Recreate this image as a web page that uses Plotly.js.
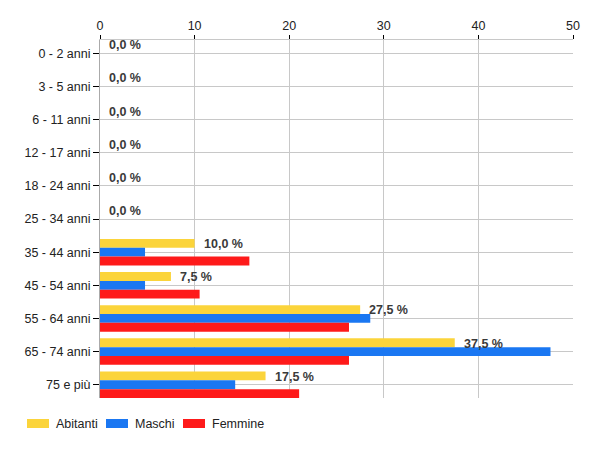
<!DOCTYPE html>
<html>
<head>
<meta charset="utf-8">
<script src="https://cdn.plot.ly/plotly-3.0.1.min.js"></script>
<style>html,body{margin:0;padding:0;background:#fff;}#chart{width:600px;height:450px;}</style>
</head>
<body>
<div id="chart"></div>
<script>
var categories = ["0 - 2 anni","3 - 5 anni","6 - 11 anni","12 - 17 anni","18 - 24 anni","25 - 34 anni","35 - 44 anni","45 - 54 anni","55 - 64 anni","65 - 74 anni","75 e più"];
var abitanti = [0, 0, 0, 0, 0, 0, 10.0, 7.5, 27.5, 37.5, 17.5];
var maschi   = [0, 0, 0, 0, 0, 0, 4.76, 4.76, 28.57, 47.62, 14.29];
var femmine  = [0, 0, 0, 0, 0, 0, 15.79, 10.53, 26.32, 26.32, 21.05];
var abitantiLabels = ["0,0 %","0,0 %","0,0 %","0,0 %","0,0 %","0,0 %","10,0 %","7,5 %","27,5 %","37,5 %","17,5 %"];
var seriesNames = ["Abitanti","Maschi","Femmine"];
var seriesColors = ["#fbd43b","#1a77f2","#fe1a1a"];
var xTicks = [0,10,20,30,40,50];

var seriesData = [abitanti, maschi, femmine];
var traces = seriesData.map(function(vals, i){
  return {
    type: 'bar', orientation: 'h',
    y: categories, x: vals,
    name: seriesNames[i],
    marker: {color: seriesColors[i]},
    hoverinfo: 'none'
  };
});

var FONT = 'Arial, Liberation Sans, sans-serif';

var annotations = categories.map(function(c, i){
  return {
    x: abitanti[i], y: c, xref: 'x', yref: 'y',
    text: '<b>' + abitantiLabels[i] + '</b>',
    showarrow: false, xanchor: 'left', yanchor: 'middle',
    xshift: 7, yshift: 8,
    font: {family: FONT, size: 12.5, color: '#3a3a3a'}
  };
});

// manual legend
var shapes = [];
var legendX = [27, 106, 183];
seriesNames.forEach(function(n, i){
  shapes.push({type:'rect', xref:'paper', yref:'paper',
    x0: (legendX[i]-100)/473, x1: (legendX[i]+22-100)/473,
    y0: (398-428)/358, y1: (398-419)/358,
    fillcolor: seriesColors[i], line: {width: 0}});
  annotations.push({xref:'paper', yref:'paper', x:(legendX[i]+27-100)/473, y:(398-424)/358,
    xanchor:'left', yanchor:'middle', showarrow:false, text:n,
    font:{family:FONT, size:12.5, color:'#222'}});
});

var layout = {
  width: 600, height: 450,
  margin: {l: 100, r: 27, t: 40, b: 52, pad: 0},
  paper_bgcolor: '#fff', plot_bgcolor: '#fff',
  barmode: 'group', bargap: 0.2, bargroupgap: 0,
  showlegend: false,
  font: {family: FONT, size: 12.5, color: '#222'},
  xaxis: {
    side: 'top', range: [0, 50], tickvals: xTicks, ticktext: xTicks.map(String),
    showgrid: true, gridcolor: '#c8c8c8', gridwidth: 1,
    zeroline: false, showline: true, linecolor: '#c8c8c8', linewidth: 1,
    ticks: 'outside', ticklen: 4, tickcolor: '#000', tickwidth: 1,
    tickfont: {size: 12.5, color: '#222'}, fixedrange: true
  },
  yaxis: {
    type: 'category', autorange: false, range: [10.4, -0.4],
    showgrid: true, gridcolor: '#c8c8c8', gridwidth: 1,
    showline: true, linecolor: '#aaaaaa', linewidth: 1,
    ticks: 'outside', ticklen: 6, tickcolor: '#000', tickwidth: 1,
    tickfont: {size: 12.5, color: '#222'}, fixedrange: true
  },
  annotations: annotations,
  shapes: shapes
};

Plotly.newPlot('chart', traces, layout, {displayModeBar: false, staticPlot: true});
</script>
</body>
</html>
